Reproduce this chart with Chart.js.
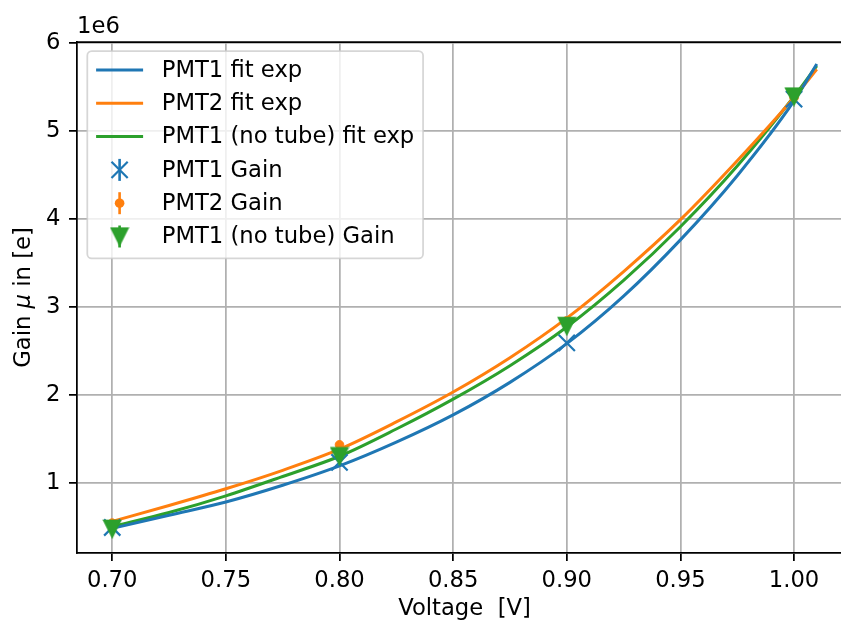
<!DOCTYPE html>
<html>
<head>
<meta charset="utf-8">
<script src="https://cdn.jsdelivr.net/npm/chart.js@4/dist/chart.umd.min.js"></script>
<style>
  html, body { margin: 0; padding: 0; background: #ffffff; overflow: hidden; }
  #gainChart { display: block; }
</style>
</head>
<body>
<canvas id="gainChart" width="860" height="623"></canvas>
<script>
// Supply voltage of the measurement points [V]
const voltages = [0.70, 0.80, 0.90, 1.00];

// Measured gain per configuration [electrons]
const gainPMT1 = [490000, 1230000, 2590000, 5360000];
const gainPMT2 = [540000, 1430000, 2840000, 5380000];
const gainPMT1NoTube = [475000, 1300000, 2780000, 5390000];

// Exponential fit curves, sampled along the voltage axis
const fitVoltages = [0.70, 0.725, 0.75, 0.775, 0.80, 0.825, 0.85, 0.875, 0.90, 0.925, 0.95, 0.975, 1.00, 1.01];
const fitPMT1 = [480000, 630000, 780000, 970000, 1190000, 1460000, 1770000, 2140000, 2580000, 3120000, 3760000, 4490000, 5340000, 5760000];
const fitPMT2 = [560000, 740000, 930000, 1140000, 1380000, 1690000, 2030000, 2420000, 2870000, 3400000, 3990000, 4660000, 5380000, 5700000];
const fitPMT1NoTube = [500000, 660000, 850000, 1070000, 1300000, 1610000, 1950000, 2330000, 2770000, 3300000, 3910000, 4600000, 5390000, 5740000];

// Axis ticks
const xTicks = [0.70, 0.75, 0.80, 0.85, 0.90, 0.95, 1.00];
const yTicks = [1000000, 2000000, 3000000, 4000000, 5000000, 6000000];

const BLUE = '#1f77b4', ORANGE = '#ff7f0e', GREEN = '#2ca02c';
const FONT = 'DejaVu Sans';
const FS = 22.7;

Chart.defaults.font.family = FONT;
Chart.defaults.font.size = FS;
Chart.defaults.color = '#000000';

// downward triangle marker
function makeTriangle(color) {
  const c = document.createElement('canvas');
  c.width = 20; c.height = 20;
  const g = c.getContext('2d');
  g.fillStyle = color; g.strokeStyle = color; g.lineWidth = 1.5;
  g.beginPath();
  g.moveTo(1.5, 1.5); g.lineTo(18.5, 1.5); g.lineTo(10, 18.5);
  g.closePath(); g.fill(); g.stroke();
  return c;
}
const triangleDown = makeTriangle(GREEN);

const pairs = (xs, ys) => xs.map((x, i) => ({ x: x, y: ys[i] }));

const fitLine = (label, ys, color) => ({
  type: 'line', label: label, data: pairs(fitVoltages, ys),
  borderColor: color, backgroundColor: color, borderWidth: 3,
  pointRadius: 0, cubicInterpolationMode: 'monotone', fill: false, order: 5
});

const datasets = [
  fitLine('PMT1 fit exp', fitPMT1, BLUE),
  fitLine('PMT2 fit exp', fitPMT2, ORANGE),
  fitLine('PMT1 (no tube) fit exp', fitPMT1NoTube, GREEN),
  { type: 'scatter', label: 'PMT1 Gain', data: pairs(voltages, gainPMT1),
    pointStyle: 'crossRot', pointRadius: 11.5, pointBorderWidth: 2.2,
    pointBorderColor: BLUE, pointBackgroundColor: BLUE, borderColor: BLUE, order: 3 },
  { type: 'scatter', label: 'PMT2 Gain', data: pairs(voltages, gainPMT2),
    pointStyle: 'circle', pointRadius: 4.3, pointBorderWidth: 1,
    pointBorderColor: ORANGE, pointBackgroundColor: ORANGE, borderColor: ORANGE, order: 2 },
  { type: 'scatter', label: 'PMT1 (no tube) Gain', data: pairs(voltages, gainPMT1NoTube),
    pointStyle: triangleDown, pointRadius: 10,
    pointBorderColor: GREEN, pointBackgroundColor: GREEN, borderColor: GREEN, order: 1 }
];

// legend in the upper left corner of the plot area, framed
const insetLegend = {
  id: 'insetLegend',
  afterDatasetsDraw(chart) {
    const ctx = chart.ctx, area = chart.chartArea;
    const ds = chart.data.datasets;
    ctx.save();
    ctx.font = FS + 'px "' + FONT + '"';
    const textW = Math.max(...ds.map(d => ctx.measureText(d.label).width));
    const pad = 8.8, handleLen = 47, handleGap = 18.6, rowH = 33.3;
    const x0 = area.left + 10.3, y0 = area.top + 9;
    const w = pad + handleLen + handleGap + textW + pad;
    const h = 207.3;
    ctx.beginPath();
    ctx.roundRect(x0, y0, w, h, 4.4);
    ctx.fillStyle = 'rgba(255,255,255,0.8)';
    ctx.fill();
    ctx.lineWidth = 1.75;
    ctx.strokeStyle = 'rgba(204,204,204,0.8)';
    ctx.stroke();

    const hx0 = x0 + pad, hx = hx0 + handleLen / 2;
    ds.forEach((d, i) => {
      const cy = y0 + 19 + i * rowH;
      const col = d.borderColor;
      ctx.strokeStyle = col; ctx.fillStyle = col;
      if (d.type === 'line') {
        ctx.lineWidth = 3;
        ctx.beginPath(); ctx.moveTo(hx0, cy); ctx.lineTo(hx0 + handleLen, cy); ctx.stroke();
      } else {
        // error bar stem
        ctx.lineWidth = 2.6;
        ctx.beginPath(); ctx.moveTo(hx, cy - 11); ctx.lineTo(hx, cy + 11); ctx.stroke();
        if (d.pointStyle === 'crossRot') {
          const r = 8.1;
          ctx.lineWidth = 2.2;
          ctx.beginPath();
          ctx.moveTo(hx - r, cy - r); ctx.lineTo(hx + r, cy + r);
          ctx.moveTo(hx + r, cy - r); ctx.lineTo(hx - r, cy + r);
          ctx.stroke();
        } else if (d.pointStyle === 'circle') {
          ctx.beginPath(); ctx.arc(hx, cy, 4.8, 0, Math.PI * 2); ctx.fill();
        } else {
          ctx.drawImage(d.pointStyle, hx - 10, cy - 10);
        }
      }
      ctx.fillStyle = '#000000';
      ctx.textAlign = 'left';
      ctx.textBaseline = 'middle';
      ctx.fillText(d.label, hx0 + handleLen + handleGap, cy + 1);
    });
    ctx.restore();
  }
};

// top spine, offset text and y-axis label
const decorations = {
  id: 'decorations',
  afterDraw(chart) {
    const ctx = chart.ctx, area = chart.chartArea;
    ctx.save();
    ctx.strokeStyle = '#000000';
    ctx.lineWidth = 1.75;
    ctx.beginPath();
    ctx.moveTo(area.left - 0.9, area.top);
    ctx.lineTo(area.right, area.top);
    ctx.stroke();

    ctx.fillStyle = '#000000';
    ctx.font = FS + 'px "' + FONT + '"';
    ctx.textAlign = 'left';
    ctx.textBaseline = 'alphabetic';
    ctx.fillText('1e6', area.left, area.top - 9.5);

    // "Gain μ in [e]" with the mu set in italics
    const parts = [['Gain ', 'normal'], ['\u03bc', 'italic'], [' in [e]', 'normal']];
    const widths = parts.map(p => {
      ctx.font = p[1] + ' ' + FS + 'px "' + FONT + '"';
      return ctx.measureText(p[0]).width;
    });
    const total = widths.reduce((a, b) => a + b, 0);
    ctx.translate(29.5, (area.top + area.bottom) / 2);
    ctx.rotate(-Math.PI / 2);
    let x = -total / 2;
    parts.forEach((p, i) => {
      ctx.font = p[1] + ' ' + FS + 'px "' + FONT + '"';
      ctx.fillText(p[0], x, 0);
      x += widths[i];
    });
    ctx.restore();
  }
};

new Chart(document.getElementById('gainChart'), {
  data: { datasets: datasets },
  options: {
    responsive: false,
    animation: false,
    devicePixelRatio: 1,
    layout: { autoPadding: false, padding: { top: 42, right: 8, bottom: 0, left: 0 } },
    plugins: { legend: { display: false }, tooltip: { enabled: false } },
    scales: {
      x: {
        type: 'linear', position: 'bottom',
        min: 0.6845, max: 1.0255,
        afterBuildTicks: s => { s.ticks = xTicks.map(v => ({ value: v })); },
        afterFit: s => { s.height = 70; },
        ticks: { autoSkip: false, padding: 6.5, maxRotation: 0,
                 callback: v => Number(v).toFixed(2) },
        grid: { color: '#b0b0b0', lineWidth: 1.75, tickColor: '#000000',
                tickWidth: 1.75, tickLength: 8 },
        border: { color: '#000000', width: 1.75 },
        title: { display: true, text: 'Voltage  [V]', padding: { top: 0, bottom: 0 },
                 font: { size: FS, lineHeight: 1.2 } }
      },
      y: {
        type: 'linear', position: 'left',
        min: 200000, max: 6010000,
        afterBuildTicks: s => { s.ticks = yTicks.map(v => ({ value: v })); },
        afterFit: s => { s.width = 77; },
        ticks: { autoSkip: false, padding: 8.5,
                 callback: v => String(Math.round(v / 1e6)) },
        grid: { color: '#b0b0b0', lineWidth: 1.75, tickColor: '#000000',
                tickWidth: 1.75, tickLength: 8 },
        border: { color: '#000000', width: 1.75 }
      }
    }
  },
  plugins: [insetLegend, decorations]
});
</script>
</body>
</html>
